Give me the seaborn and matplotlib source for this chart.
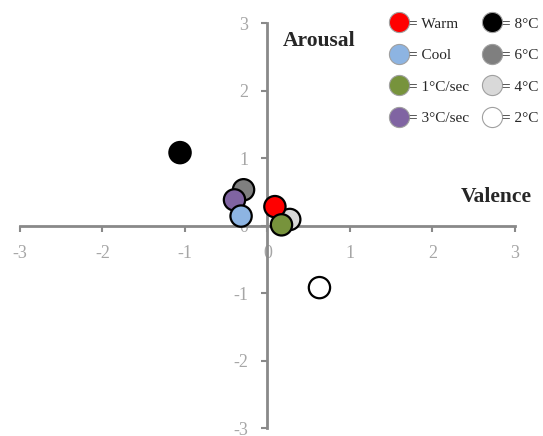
import matplotlib
matplotlib.use("Agg")
import matplotlib.pyplot as plt
from matplotlib.lines import Line2D
import pandas as pd
import seaborn as sns

# condition, valence (x), arousal (y) -- drawing order matters for overlaps
conditions = ["8°C", "6°C", "4°C", "3°C/sec", "Cool", "Warm", "1°C/sec", "2°C"]
valence = [-1.06, -0.29, 0.27, -0.40, -0.32, 0.09, 0.17, 0.63]
arousal = [1.08, 0.53, 0.09, 0.38, 0.14, 0.28, 0.01, -0.92]

colors = {
    "Warm": "#FF0000",
    "Cool": "#8DB4E2",
    "1°C/sec": "#77933C",
    "3°C/sec": "#8064A2",
    "8°C": "#000000",
    "6°C": "#7F7F7F",
    "4°C": "#D9D9D9",
    "2°C": "#FFFFFF",
}
legend_order = ["Warm", "Cool", "1°C/sec", "3°C/sec", "8°C", "6°C", "4°C", "2°C"]
ticks = [-3, -2, -1, 0, 1, 2, 3]

df = pd.DataFrame({"cond": conditions, "valence": valence, "arousal": arousal})

sns.set_style("white")
plt.rcParams["font.family"] = ["Liberation Serif", "DejaVu Serif"]
plt.rcParams["axes.unicode_minus"] = False

fig = plt.figure(figsize=(5.43, 4.36), dpi=100)
ax = fig.add_axes([0.0368, 0.0183, 0.9116, 0.9289])

sns.scatterplot(data=df, x="valence", y="arousal", hue="cond", palette=colors,
                s=235, edgecolor="black", linewidth=1.6, legend=False,
                ax=ax, zorder=3)

ax.set_xlim(-3, 3)
ax.set_ylim(-3, 3)
ax.set_xticks(ticks)
ax.set_yticks(ticks)
ax.set_xlabel("")
ax.set_ylabel("")

axis_grey = "#898989"
for side in ["top", "right"]:
    ax.spines[side].set_visible(False)
for side in ["left", "bottom"]:
    ax.spines[side].set_position(("data", 0))
    ax.spines[side].set_color(axis_grey)
    ax.spines[side].set_linewidth(2)
    ax.spines[side].set_zorder(1)

ax.tick_params(axis="x", bottom=True, direction="out", length=4, width=1.5,
               color=axis_grey, labelcolor="#A6A6A6", labelsize=13, pad=10)
ax.tick_params(axis="y", left=True, direction="out", length=4, width=1.5,
               color=axis_grey, labelcolor="#A6A6A6", labelsize=13, pad=10)

ax.text(0.19, 2.73, "Arousal", fontsize=15.5, fontweight="bold", va="center", ha="left")
ax.text(3.2, 0.42, "Valence", fontsize=15.5, fontweight="bold", va="center",
        ha="right", clip_on=False)

handles = [Line2D([], [], marker="o", linestyle="none", markersize=14.5,
                  markerfacecolor=colors[c], markeredgecolor="#A0A0A0",
                  markeredgewidth=0.8) for c in legend_order]
labels = ["= " + c for c in legend_order]
ax.legend(handles, labels, ncol=2, frameon=False, fontsize=11,
          loc="upper right", bbox_to_anchor=(1.06, 1.03),
          handlelength=1.2, handletextpad=0.05, columnspacing=0.9,
          labelspacing=1.17, borderaxespad=0)

fig.savefig("out.png", dpi=100)
